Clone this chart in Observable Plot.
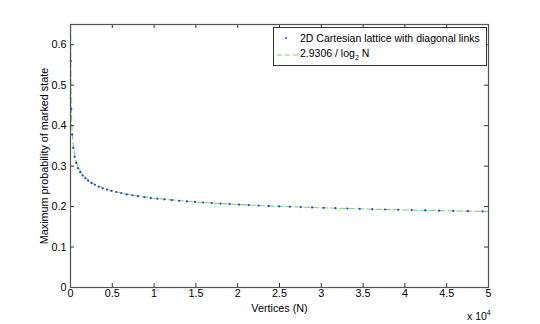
<!DOCTYPE html>
<html>
<head>
<meta charset="utf-8">
<script src="https://cdn.jsdelivr.net/npm/d3@7"></script>
<script src="https://cdn.jsdelivr.net/npm/@observablehq/plot@0.6"></script>
<style>
  html, body { margin: 0; padding: 0; background: #fff; }
  #wrap { position: relative; width: 540px; height: 324px; font-family: "Liberation Sans", Arial, sans-serif; }
  #legend { position: absolute; left: 273px; top: 27px; width: 214px; height: 39px; border: 1px solid #333; background: #fff; font-size: 10.5px; color: #000; box-sizing: border-box; }
  .row { position: absolute; left: 0; height: 14px; line-height: 14px; }
  #exp { position: absolute; left: 467px; top: 309px; font-size: 10.5px; }
</style>
</head>
<body>
<div id="wrap"></div>
<script>
// Lattice data (N = L^2)
const latticeN = [36, 100, 196, 324, 484, 676, 900, 1156, 1444, 1764, 2116, 2500, 2916, 3364, 3844, 4356, 4900, 5476, 6084, 6724, 7396, 8100, 8836, 9604, 10404, 11236, 12100, 12996, 13924, 14884, 15876, 16900, 17956, 19044, 20164, 21316, 22500, 23716, 24964, 26244, 27556, 28900, 30276, 31684, 33124, 34596, 36100, 37636, 39204, 40804, 42436, 44100, 45796, 47524, 49284];
const latticeP = [0.560, 0.441, 0.378, 0.345, 0.323, 0.308, 0.295, 0.285, 0.277, 0.270, 0.264, 0.258, 0.254, 0.249, 0.245, 0.242, 0.239, 0.236, 0.233, 0.230, 0.228, 0.2257, 0.2236, 0.2215, 0.2196, 0.2178, 0.2161, 0.2144, 0.2129, 0.2114, 0.2100, 0.2087, 0.2074, 0.2061, 0.2049, 0.2038, 0.2027, 0.2016, 0.2006, 0.1996, 0.1987, 0.1978, 0.1969, 0.1960, 0.1952, 0.1944, 0.1936, 0.1928, 0.1921, 0.1913, 0.1906, 0.1899, 0.1893, 0.1886, 0.1880];
// Fit curve 2.9306 / log2 N
const fitN = [23, 30, 40, 50, 70, 100, 150, 200, 300, 400, 600, 800, 1000, 1500, 2000, 3000, 4000, 5000, 7000, 10000, 15000, 20000, 25000, 30000, 35000, 40000, 45000, 50000];
const fitP = [0.648, 0.597, 0.551, 0.519, 0.478, 0.441, 0.405, 0.383, 0.356, 0.339, 0.318, 0.304, 0.294, 0.278, 0.267, 0.254, 0.245, 0.2385, 0.2294, 0.2205, 0.2112, 0.2051, 0.2006, 0.1970, 0.1941, 0.1917, 0.1896, 0.1877];
const xTicks = [0, 5000, 10000, 15000, 20000, 25000, 30000, 35000, 40000, 45000, 50000];
const xTickLabels = ["0", "0.5", "1", "1.5", "2", "2.5", "3", "3.5", "4", "4.5", "5"];
const yTicks = [0, 0.1, 0.2, 0.3, 0.4, 0.5, 0.6];
const yTickLabels = ["0", "0.1", "0.2", "0.3", "0.4", "0.5", "0.6"];

const lattice = latticeN.map((n, i) => ({n, p: latticeP[i]}));
const fit = fitN.map((n, i) => ({n, p: fitP[i]}));

const xMax = 50000, yMax = 0.65;
const tx = 4 / 263 * yMax;   // inward tick length in y-units
const ty = 4 / 418 * xMax;   // inward tick length in x-units

const chart = Plot.plot({
  width: 540,
  height: 324,
  marginLeft: 70,
  marginRight: 52,
  marginTop: 24,
  marginBottom: 37,
  style: {fontFamily: "Liberation Sans, Arial, sans-serif", fontSize: "10.8px", background: "#fff", color: "#000"},
  x: {domain: [0, xMax]},
  y: {domain: [0, yMax]},
  marks: [
    Plot.line(fit, {x: "n", y: "p", stroke: "#7ad86a", strokeWidth: 1.1, strokeDasharray: "6,3", clip: true}),
    Plot.dot(lattice, {x: "n", y: "p", r: 1.1, fill: "#1f3cff", stroke: "none"}),
    Plot.ruleX(xTicks, {x: d => d, y1: 0, y2: tx, stroke: "#333"}),
    Plot.ruleX(xTicks, {x: d => d, y1: yMax, y2: yMax - tx, stroke: "#333"}),
    Plot.ruleY(yTicks, {y: d => d, x1: 0, x2: ty, stroke: "#333"}),
    Plot.ruleY(yTicks, {y: d => d, x1: xMax, x2: xMax - ty, stroke: "#333"}),
    Plot.axisX(xTicks, {tickSize: 0, tickPadding: 2, tickFormat: (d, i) => xTickLabels[i], label: "Vertices (N)", labelAnchor: "center", labelOffset: 24, labelArrow: "none"}),
    Plot.axisY(yTicks, {tickSize: 0, tickPadding: 4, tickFormat: (d, i) => yTickLabels[i], label: "Maximum probability of marked state", labelAnchor: "center", labelOffset: 30, labelArrow: "none"}),
    Plot.frame({stroke: "#555", strokeWidth: 1.2})
  ]
});

const wrap = document.getElementById("wrap");
wrap.appendChild(chart);

const legend = document.createElement("div");
legend.id = "legend";
legend.innerHTML = `
  <div class="row" style="top:3px;left:0;width:100%">
    <svg width="26" height="14" style="position:absolute;left:0;top:0"><circle cx="12" cy="7" r="1" fill="#1f3cff"/></svg>
    <span style="position:absolute;left:26px;white-space:nowrap">2D Cartesian lattice with diagonal links</span>
  </div>
  <div class="row" style="top:18px;left:0;width:100%">
    <svg width="26" height="14" style="position:absolute;left:0;top:0"><line x1="3" x2="25" y1="9" y2="9" stroke="#7ad86a" stroke-dasharray="5,3"/></svg>
    <span style="position:absolute;left:26px;white-space:nowrap">2.9306 / log<sub style="font-size:7px">2</sub> N</span>
  </div>`;
wrap.appendChild(legend);

const exp = document.createElement("div");
exp.id = "exp";
exp.innerHTML = `x 10<sup style="font-size:7px">4</sup>`;
wrap.appendChild(exp);
</script>
</body>
</html>
